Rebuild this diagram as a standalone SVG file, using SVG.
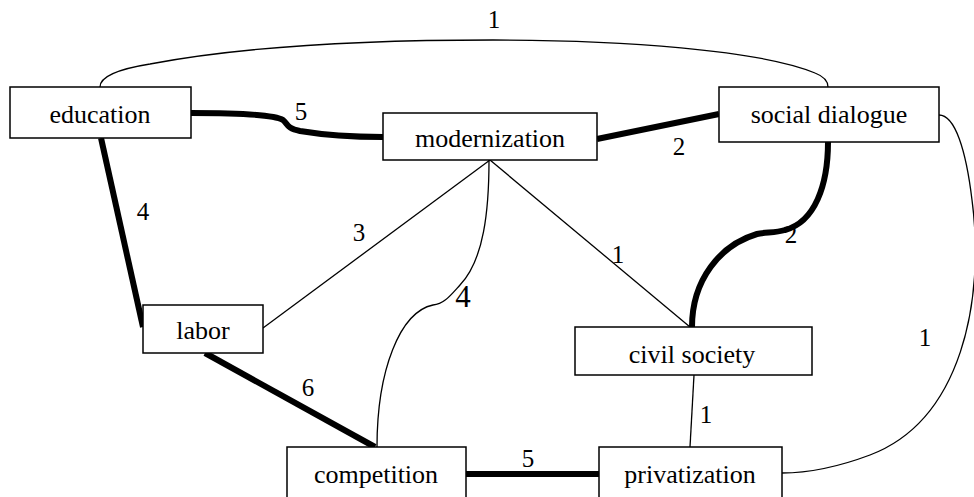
<svg xmlns="http://www.w3.org/2000/svg" width="974" height="497" viewBox="0 0 974 497">
  <style>
    .box { fill: #fff; stroke: #000; stroke-width: 1.5; }
    .lbl { font-family: "Liberation Serif", "Times New Roman", serif; font-size: 26px; text-anchor: middle; fill: #000; }
    .num { font-family: "Liberation Serif", "Times New Roman", serif; font-size: 25px; text-anchor: middle; fill: #000; }
    .num.big { font-size: 31px; }
    .thin { fill: none; stroke: #000; stroke-width: 1.3; }
    .thick { fill: none; stroke: #000; stroke-width: 6; }
  </style>
  <rect width="974" height="497" fill="#fff"/>

  <g id="connectors">
    <!-- education to social dialogue, arching over the top -->
    <path class="thin" d="M100,87 Q100,72 150,64 C250,45 380,40 493,40 C620,40 760,50 815,73 Q828,78 828,87"/>
    <!-- education to modernization -->
    <path class="thick" d="M191,113 C240,113 275,115 283,120 C288,124 286,128 300,131 C330,136 360,137 383,137"/>
    <!-- modernization to social dialogue -->
    <path class="thick" d="M597,139 L719,114"/>
    <!-- education to labor -->
    <path class="thick" d="M101,138 L143,327"/>
    <!-- modernization to labor -->
    <path class="thin" d="M490,160 L263,328"/>
    <!-- modernization to competition -->
    <path class="thin" d="M489,160 C489,210 484,260 460,285 C450,296 444,304 433,305 C400,312 377,370 377,447"/>
    <!-- modernization to civil society -->
    <path class="thin" d="M490,160 L690,327"/>
    <!-- social dialogue to civil society -->
    <path class="thick" d="M828,142 C828,185 815,222 785,230 C775,233 765,232 757,234 C720,245 692,280 692,327"/>
    <!-- social dialogue to privatization, around the right side -->
    <path class="thin" d="M939,115 C955,115 966,150 972,200 C985,300 962,420 870,455 C830,470 800,473 782,473"/>
    <!-- civil society to privatization -->
    <path class="thin" d="M694,375 L690,447"/>
    <!-- labor to competition -->
    <path class="thick" d="M205,353 L375,447"/>
    <!-- competition to privatization -->
    <path class="thick" d="M466,474 L599,474"/>
  </g>

  <g id="weights">
    <text class="num" x="494" y="28">1</text>
    <text class="num" x="301" y="120">5</text>
    <text class="num" x="679" y="155">2</text>
    <text class="num" x="143" y="220">4</text>
    <text class="num" x="359" y="241">3</text>
    <text class="num big" x="463" y="307">4</text>
    <text class="num" x="618" y="263">1</text>
    <text class="num" x="791" y="243">2</text>
    <text class="num" x="925" y="346">1</text>
    <text class="num" x="308" y="396">6</text>
    <text class="num" x="706" y="423">1</text>
    <text class="num" x="528" y="467">5</text>
  </g>

  <g id="education">
    <rect class="box" x="10" y="87" width="181" height="51"/>
    <text class="lbl" x="100" y="123">education</text>
  </g>
  <g id="modernization">
    <rect class="box" x="383" y="113" width="214" height="47"/>
    <text class="lbl" x="490" y="147">modernization</text>
  </g>
  <g id="social-dialogue">
    <rect class="box" x="719" y="87" width="220" height="55"/>
    <text class="lbl" x="829" y="123">social dialogue</text>
  </g>
  <g id="labor">
    <rect class="box" x="143" y="305" width="120" height="48"/>
    <text class="lbl" x="203" y="339">labor</text>
  </g>
  <g id="civil-society">
    <rect class="box" x="575" y="327" width="237" height="48"/>
    <text class="lbl" x="692" y="363">civil society</text>
  </g>
  <g id="competition">
    <rect class="box" x="287" y="447" width="179" height="70"/>
    <text class="lbl" x="376" y="483">competition</text>
  </g>
  <g id="privatization">
    <rect class="box" x="599" y="447" width="183" height="70"/>
    <text class="lbl" x="690" y="483">privatization</text>
  </g>
</svg>
